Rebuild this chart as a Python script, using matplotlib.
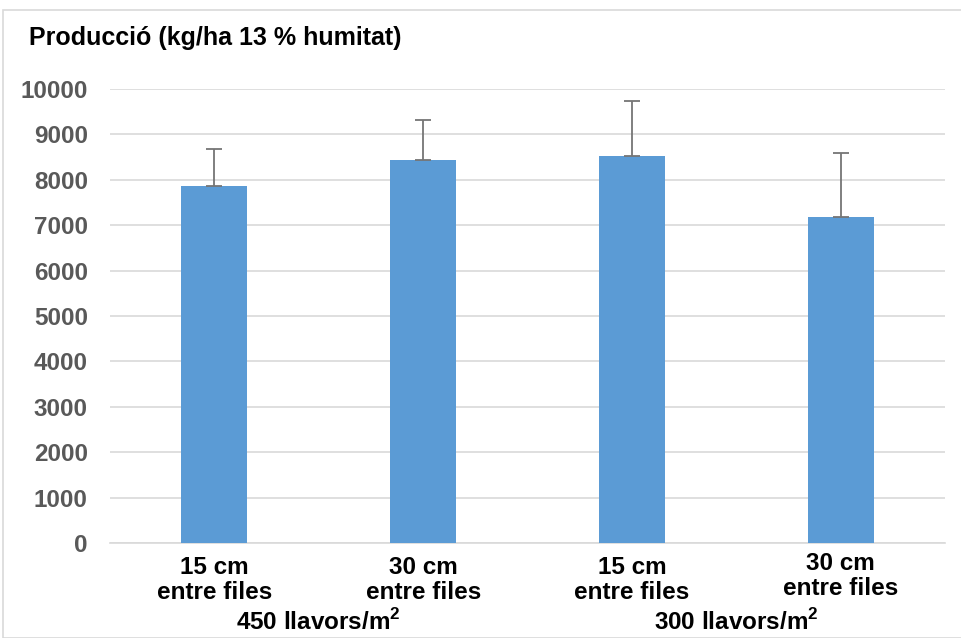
import matplotlib
matplotlib.use("Agg")
import matplotlib.pyplot as plt
import matplotlib.transforms as mtransforms
from matplotlib.patches import Rectangle

categories = ["15 cm\nentre files", "30 cm\nentre files", "15 cm\nentre files", "30 cm\nentre files"]
groups = ["450 llavors/m$^{\\mathbf{2}}$", "300 llavors/m$^{\\mathbf{2}}$"]
values = [7860, 8440, 8520, 7180]
errors = [820, 880, 1210, 1410]
yticks = [0, 1000, 2000, 3000, 4000, 5000, 6000, 7000, 8000, 9000, 10000]

plt.rcParams['font.family'] = ['Liberation Sans', 'DejaVu Sans']
plt.rcParams['mathtext.fontset'] = 'custom'
plt.rcParams['mathtext.rm'] = 'Liberation Sans'
plt.rcParams['mathtext.bf'] = 'Liberation Sans:bold'

fig = plt.figure(figsize=(9.62, 6.38), dpi=100)
fig.patches.append(Rectangle((3/962, 0), 1, 1 - 10/638, transform=fig.transFigure,
                             fill=False, edgecolor='#d9d9d9', linewidth=1.2))
ax = fig.add_axes([110/962, 95/638, 835/962, 454/638])
x = list(range(len(values)))
ax.bar(x, values, width=0.316, color='#5b9bd5', zorder=3)
ax.errorbar(x, values, yerr=[[0]*len(errors), errors], fmt='none', ecolor='#757575',
            elinewidth=1.3, capsize=6, capthick=1.3, zorder=4)
ax.set_xlim(-0.5, 3.5)
ax.set_ylim(0, 10000)
ax.set_yticks(yticks)
ax.set_yticklabels([str(t) for t in yticks], fontsize=17.5, fontweight='bold', color='#595959')
ax.yaxis.grid(True, color='#d9d9d9', linewidth=1.2, zorder=0)
ax.tick_params(axis='y', length=0, pad=16)
ax.tick_params(axis='x', length=0, pad=9)
ax.set_xticks(x)
ax.set_xticklabels(categories, fontsize=17.5, fontweight='bold', color='black', linespacing=1.12)
for s in ['left', 'right', 'top']:
    ax.spines[s].set_visible(False)
ax.spines['bottom'].set_color('#d9d9d9')
ax.spines['bottom'].set_linewidth(1.2)

# last category label sits slightly higher in the original
lbl = ax.get_xticklabels()[3]
lbl.set_transform(lbl.get_transform() + mtransforms.ScaledTranslation(0, 4/100, fig.dpi_scale_trans))

for i, g in enumerate(groups):
    cx = ax.transData.transform((0.5 + 2*i, 0))[0] / fig.bbox.width
    fig.text(cx, 8/638, g, ha='center', va='baseline',
             fontsize=17.5, fontweight='bold', color='black')

fig.text(29/962, 1 - 45/638, "Producció (kg/ha 13 % humitat)", fontsize=18, fontweight='bold',
         color='black', ha='left', va='baseline')

fig.savefig("out.png", dpi=100)
